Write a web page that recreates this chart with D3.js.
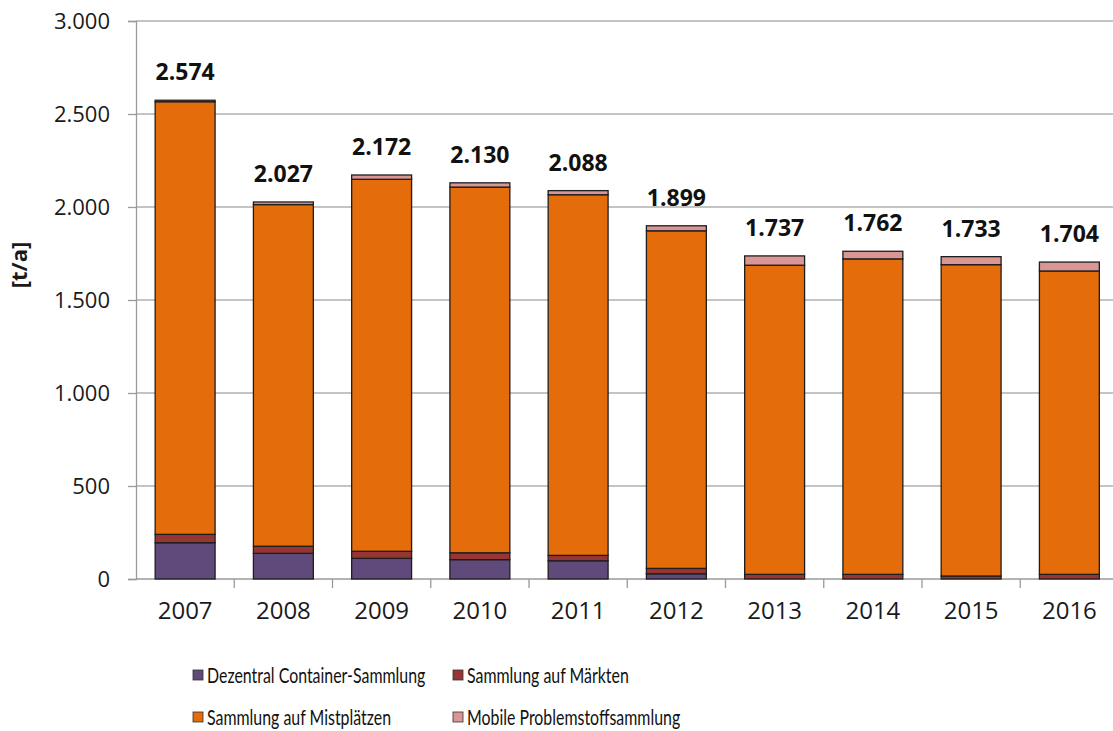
<!DOCTYPE html>
<html>
<head>
<meta charset="utf-8">
<script src="https://cdn.jsdelivr.net/npm/d3@7"></script>
<style>
    html, body { margin: 0; padding: 0; background: #fff; }
    svg { display: block; }
</style>
</head>
<body>
<div id="chart"></div>
<script>
const years = ['2007', '2008', '2009', '2010', '2011', '2012', '2013', '2014', '2015', '2016'];
const dezentral = [195, 138, 111, 104, 98, 28, 0, 0, 0, 0];
const maerkte = [45, 38, 38, 37, 29, 29, 25, 25, 16, 25];
const mistplaetze = [2326, 1837, 2000, 1966, 1939, 1815, 1662, 1696, 1674, 1631];
const mobile = [8, 14, 23, 23, 22, 27, 50, 41, 43, 48];
const yTicks = [0, 500, 1000, 1500, 2000, 2500, 3000];

const seriesNames = ['Dezentral Container-Sammlung', 'Sammlung auf Märkten', 'Sammlung auf Mistplätzen', 'Mobile Problemstoffsammlung'];
const seriesKeys = ['dezentral', 'maerkte', 'mistplaetze', 'mobile'];
const colors = ['#604a7b', '#963634', '#e46c0a', '#d99694'];

const width = 1113, height = 731;
const margin = {top: 21, left: 136, bottom: 579, right: 1118.5};

const de = d3.formatLocale({decimal: ',', thousands: '.', grouping: [3], currency: ['', ' €']});
const fmt = de.format(',d');

// rows for the stack
const table = years.map((y, i) => ({
    year: y,
    dezentral: dezentral[i],
    maerkte: maerkte[i],
    mistplaetze: mistplaetze[i],
    mobile: mobile[i]
}));

const stack = d3.stack().keys(seriesKeys)(table);

const svg = d3.select('#chart')
    .append('svg')
    .attr('width', width)
    .attr('height', height);

const x = d3.scaleBand()
    .domain(years)
    .range([margin.left, margin.right])
    .paddingInner(0.39)
    .paddingOuter(0.195);

const y = d3.scaleLinear()
    .domain([0, 3000])
    .range([margin.bottom, margin.top]);

// gridlines
svg.append('g')
    .selectAll('line')
    .data(yTicks.filter(d => d > 0))
    .enter()
    .append('line')
    .attr('x1', margin.left)
    .attr('x2', width)
    .attr('y1', d => y(d))
    .attr('y2', d => y(d))
    .attr('stroke', '#b0b0b0')
    .attr('stroke-width', 1.3);

// y axis
const yAxis = svg.append('g')
    .attr('transform', `translate(${margin.left},0)`)
    .call(d3.axisLeft(y).tickValues(yTicks).tickFormat(fmt).tickSize(8).tickPadding(18));
yAxis.select('.domain').attr('stroke', '#9a9a9a').attr('stroke-width', 1.3);
yAxis.selectAll('.tick line').attr('stroke', '#9a9a9a').attr('stroke-width', 1.3);
yAxis.selectAll('text')
    .attr('font-family', '"Open Sans", sans-serif')
    .attr('font-size', 22)
    .attr('fill', '#1a1a1a');

// x axis
const xAxis = svg.append('g')
    .attr('transform', `translate(0,${margin.bottom})`)
    .call(d3.axisBottom(x).tickSize(0).tickPadding(23));
xAxis.select('.domain').remove();
xAxis.append('line')
    .attr('x1', margin.left)
    .attr('x2', width)
    .attr('stroke', '#9a9a9a')
    .attr('stroke-width', 1.3);
// tick marks sit between categories
xAxis.selectAll('.sep')
    .data(years)
    .enter()
    .append('line')
    .attr('class', 'sep')
    .attr('x1', d => x(d) + x.bandwidth() / 2 + x.step() / 2)
    .attr('x2', d => x(d) + x.bandwidth() / 2 + x.step() / 2)
    .attr('y1', 0)
    .attr('y2', 9)
    .attr('stroke', '#9a9a9a')
    .attr('stroke-width', 1.3);
xAxis.selectAll('text')
    .attr('font-family', '"Open Sans", sans-serif')
    .attr('font-size', 24)
    .attr('fill', '#1a1a1a');

// y label
svg.append('text')
    .attr('transform', 'translate(27,265) rotate(-90)')
    .attr('text-anchor', 'middle')
    .attr('font-family', '"Open Sans", sans-serif')
    .attr('font-weight', 'bold')
    .attr('font-size', 22)
    .attr('fill', '#1a1a1a')
    .text('[t/a]');

// bars
svg.append('g')
    .selectAll('g')
    .data(stack)
    .enter()
    .append('g')
    .attr('fill', (d, i) => colors[i])
    .selectAll('rect')
    .data(d => d)
    .enter()
    .append('rect')
    .attr('x', d => x(d.data.year))
    .attr('width', x.bandwidth())
    .attr('y', d => y(d[1]))
    .attr('height', d => y(d[0]) - y(d[1]))
    .attr('stroke', '#1e1e1e')
    .attr('stroke-width', 1.3);

// totals above bars
svg.append('g')
    .selectAll('text')
    .data(table)
    .enter()
    .append('text')
    .attr('x', d => x(d.year) + x.bandwidth() / 2)
    .attr('y', d => y(d3.sum(seriesKeys, k => d[k])) - 20)
    .attr('text-anchor', 'middle')
    .attr('font-family', '"Open Sans", sans-serif')
    .attr('font-weight', 'bold')
    .attr('font-size', 23)
    .attr('fill', '#111')
    .text(d => fmt(d3.sum(seriesKeys, k => d[k])));

// legend
const legendPos = [[193, 675], [453, 675], [193, 717], [453, 717]];
const legend = svg.append('g')
    .selectAll('g')
    .data(seriesNames)
    .enter()
    .append('g')
    .attr('transform', (d, i) => `translate(${legendPos[i][0]},${legendPos[i][1]})`);
legend.append('rect')
    .attr('x', 0)
    .attr('y', -5)
    .attr('width', 10)
    .attr('height', 10)
    .attr('fill', (d, i) => colors[i])
    .attr('stroke', '#333')
    .attr('stroke-width', 0.8);
// Calibri-like narrow look: squeeze Lato horizontally
legend.append('text')
    .attr('transform', 'translate(14,0) scale(0.74,1)')
    .attr('dy', '0.35em')
    .attr('font-family', 'Lato, "Open Sans", sans-serif')
    .attr('font-size', 21.5)
    .attr('fill', '#111')
    .text(d => d);
</script>
</body>
</html>
